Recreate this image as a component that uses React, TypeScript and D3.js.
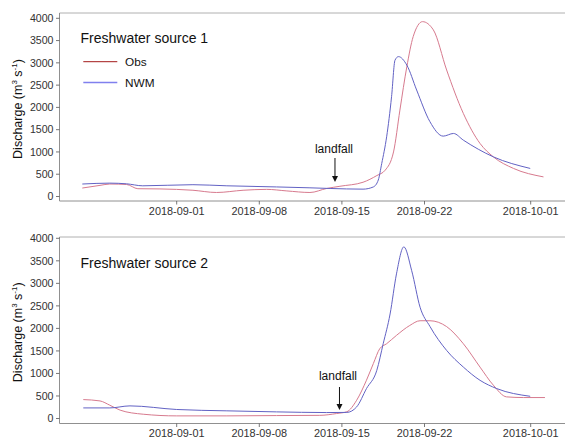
import React from "react";
import * as d3 from "d3";

type Pt = [string, number];

const obs1: Pt[] = [
  ["2018-08-24T00", 190], ["2018-08-25T12", 250], ["2018-08-26T08", 280], ["2018-08-27T18", 270],
  ["2018-08-28T17", 175], ["2018-08-30T14", 170], ["2018-09-02T09", 140], ["2018-09-04T09", 90],
  ["2018-09-06T15", 140], ["2018-09-08T15", 160], ["2018-09-10T08", 125], ["2018-09-12T07", 90],
  ["2018-09-13T17", 180], ["2018-09-14T20", 230], ["2018-09-16T19", 320], ["2018-09-17T23", 470],
  ["2018-09-18T16", 590], ["2018-09-19T09", 1000], ["2018-09-19T22", 1940], ["2018-09-20T12", 2910],
  ["2018-09-21T01", 3590], ["2018-09-21T20", 3925], ["2018-09-22T18", 3740], ["2018-09-23T21", 2840],
  ["2018-09-25T07", 1865], ["2018-09-26T17", 1190], ["2018-09-27T20", 890], ["2018-09-29T13", 630],
  ["2018-10-02T02", 440],
];

const nwm1: Pt[] = [
  ["2018-08-24T00", 280], ["2018-08-26T08", 300], ["2018-08-27T18", 285], ["2018-08-29T03", 240],
  ["2018-09-02T09", 265], ["2018-09-05T06", 240], ["2018-09-09T11", 215], ["2018-09-12T07", 195],
  ["2018-09-14T00", 180], ["2018-09-16T19", 165], ["2018-09-17T16", 215], ["2018-09-18T02", 370],
  ["2018-09-18T09", 740], ["2018-09-18T19", 1340], ["2018-09-19T05", 2240], ["2018-09-19T12", 3060],
  ["2018-09-19T19", 3140], ["2018-09-20T12", 2950], ["2018-09-21T08", 2390], ["2018-09-22T11", 1680],
  ["2018-09-23T14", 1355], ["2018-09-24T11", 1415], ["2018-09-25T07", 1265], ["2018-09-27T20", 890],
  ["2018-09-30T23", 630],
];

const obs2: Pt[] = [
  ["2018-08-24T02", 420], ["2018-08-25T12", 390], ["2018-08-26T08", 295], ["2018-08-27T05", 185],
  ["2018-08-29T04", 95], ["2018-09-01T00", 58], ["2018-09-05T06", 58], ["2018-09-09T11", 65],
  ["2018-09-13T03", 70], ["2018-09-14T13", 110], ["2018-09-15T10", 150], ["2018-09-16T06", 405],
  ["2018-09-17T02", 850], ["2018-09-17T16", 1220], ["2018-09-18T05", 1550], ["2018-09-18T19", 1660],
  ["2018-09-19T15", 1845], ["2018-09-20T18", 2065], ["2018-09-21T15", 2170], ["2018-09-22T11", 2170],
  ["2018-09-23T21", 2040], ["2018-09-25T07", 1660], ["2018-09-26T17", 1140], ["2018-09-27T20", 740],
  ["2018-09-28T23", 480], ["2018-09-30T09", 465], ["2018-10-02T05", 465],
];

const nwm2: Pt[] = [
  ["2018-08-24T02", 235], ["2018-08-26T08", 235], ["2018-08-28T01", 280], ["2018-09-01T00", 200],
  ["2018-09-05T06", 170], ["2018-09-09T11", 147], ["2018-09-13T17", 132], ["2018-09-15T10", 135],
  ["2018-09-16T06", 257], ["2018-09-17T02", 664], ["2018-09-17T23", 1069], ["2018-09-18T12", 1660],
  ["2018-09-19T02", 2320], ["2018-09-19T15", 3210], ["2018-09-20T06", 3810], ["2018-09-20T22", 3280],
  ["2018-09-21T15", 2470], ["2018-09-22T11", 2045], ["2018-09-23T21", 1511], ["2018-09-25T07", 1142],
  ["2018-09-26T17", 847], ["2018-09-28T03", 664], ["2018-09-30T23", 493],
];

const xTickLabels = ["2018-09-01", "2018-09-08", "2018-09-15", "2018-09-22", "2018-10-01"];
const yTicks = [0, 500, 1000, 1500, 2000, 2500, 3000, 3500, 4000];
const titles = ["Freshwater source 1", "Freshwater source 2"];
const legendLabels = ["Obs", "NWM"];
const landfallDate = "2018-09-14T15";

const parse = (s: string) => new Date(s + ":00:00Z");

const OBS_COLOR = "#d77a8e";
const NWM_COLOR = "#6262c4";
const FONT = "'Liberation Sans', Arial, sans-serif";

const x = d3
  .scaleUtc()
  .domain([new Date("2018-09-01T00:00:00Z"), new Date("2018-10-01T00:00:00Z")])
  .range([176.7, 530.7]);

const LEFT = 59.5;
const RIGHT = 565;

type PanelProps = {
  top: number;
  bottom: number;
  y0: number;
  y4000: number;
  obs: Pt[];
  nwm: Pt[];
  title: string;
  titleY: number;
  legend: boolean;
  landText: [number, number];
  arrow: [number, number, number];
};

function Panel(p: PanelProps) {
  const y = d3.scaleLinear().domain([0, 4000]).range([p.y0, p.y4000]);
  const line = d3
    .line<Pt>()
    .x((d) => x(parse(d[0])))
    .y((d) => y(d[1]))
    .curve(d3.curveMonotoneX);
  const labelCenter = (p.top + p.bottom) / 2 + 2;
  return (
    <g>
      <line x1={LEFT} x2={RIGHT} y1={p.top} y2={p.top} stroke="#b0b0b0" strokeWidth={1} />
      <line x1={LEFT} x2={RIGHT} y1={p.bottom} y2={p.bottom} stroke="#909090" strokeWidth={1} />
      <line x1={LEFT} x2={LEFT} y1={p.top} y2={p.bottom} stroke="#909090" strokeWidth={1} />
      {yTicks.map((t) => (
        <g key={t}>
          <line x1={LEFT - 3.5} x2={LEFT} y1={y(t)} y2={y(t)} stroke="#555" strokeWidth={0.8} />
          <text
            x={LEFT - 6}
            y={y(t)}
            dy="0.35em"
            textAnchor="end"
            fontSize={10.6}
            fill="#333"
            fontFamily={FONT}
          >
            {t}
          </text>
        </g>
      ))}
      {xTickLabels.map((t) => {
        const xx = x(parse(t + "T00"));
        return (
          <g key={t}>
            <line x1={xx} x2={xx} y1={p.bottom} y2={p.bottom + 3.5} stroke="#555" strokeWidth={0.8} />
            <text
              x={xx}
              y={p.bottom + 13.5}
              textAnchor="middle"
              fontSize={10.9}
              fill="#333"
              fontFamily={FONT}
            >
              {t}
            </text>
          </g>
        );
      })}
      <text
        transform={`translate(21.5,${labelCenter}) rotate(-90)`}
        textAnchor="middle"
        fontSize={12.5}
        fill="#111"
        fontFamily={FONT}
      >
        Discharge (m<tspan dy={-4.5} fontSize={8}>3</tspan>
        <tspan dy={4.5}> s</tspan>
        <tspan dy={-4.5} fontSize={8}>-1</tspan>
        <tspan dy={4.5}>)</tspan>
      </text>
      <path d={line(p.obs) || ""} fill="none" stroke={OBS_COLOR} strokeWidth={1} />
      <path d={line(p.nwm) || ""} fill="none" stroke={NWM_COLOR} strokeWidth={1} />
      <text x={80.5} y={p.titleY} fontSize={14} fill="#111" fontFamily={FONT}>
        {p.title}
      </text>
      {p.legend && (
        <g>
          <line x1={83.3} x2={117.3} y1={61.7} y2={61.7} stroke="#a31a1a" strokeWidth={1} />
          <text x={125} y={66} fontSize={11.8} fill="#111" fontFamily={FONT}>
            {legendLabels[0]}
          </text>
          <line x1={83.3} x2={117.3} y1={82.5} y2={82.5} stroke="#8080ee" strokeWidth={1.6} />
          <text x={125} y={86.7} fontSize={11.8} fill="#111" fontFamily={FONT}>
            {legendLabels[1]}
          </text>
        </g>
      )}
      <text
        x={p.landText[0]}
        y={p.landText[1]}
        textAnchor="middle"
        fontSize={12}
        fill="#111"
        fontFamily={FONT}
      >
        landfall
      </text>
      <line x1={p.arrow[0]} x2={p.arrow[0]} y1={p.arrow[1]} y2={p.arrow[2] - 5} stroke="#111" strokeWidth={1} />
      <path
        d={`M${p.arrow[0] - 3},${p.arrow[2] - 6} L${p.arrow[0] + 3},${p.arrow[2] - 6} L${p.arrow[0]},${p.arrow[2]} Z`}
        fill="#111"
      />
    </g>
  );
}

export default function App() {
  const lx = x(parse(landfallDate));
  return (
    <svg
      width={565}
      height={439}
      style={{ position: "absolute", left: 0, top: 0, background: "#fff" }}
    >
      <rect width={565} height={439} fill="#fff" />
      <Panel
        top={13}
        bottom={201}
        y0={196.5}
        y4000={18.3}
        obs={obs1}
        nwm={nwm1}
        title={titles[0]}
        titleY={43}
        legend={true}
        landText={[lx - 3.5, 152.5]}
        arrow={[lx - 2.5, 158, 182]}
      />
      <Panel
        top={237}
        bottom={423.5}
        y0={418.5}
        y4000={238.3}
        obs={obs2}
        nwm={nwm2}
        title={titles[1]}
        titleY={267.5}
        legend={false}
        landText={[lx + 0.5, 380]}
        arrow={[lx + 2, 387, 410]}
      />
    </svg>
  );
}
